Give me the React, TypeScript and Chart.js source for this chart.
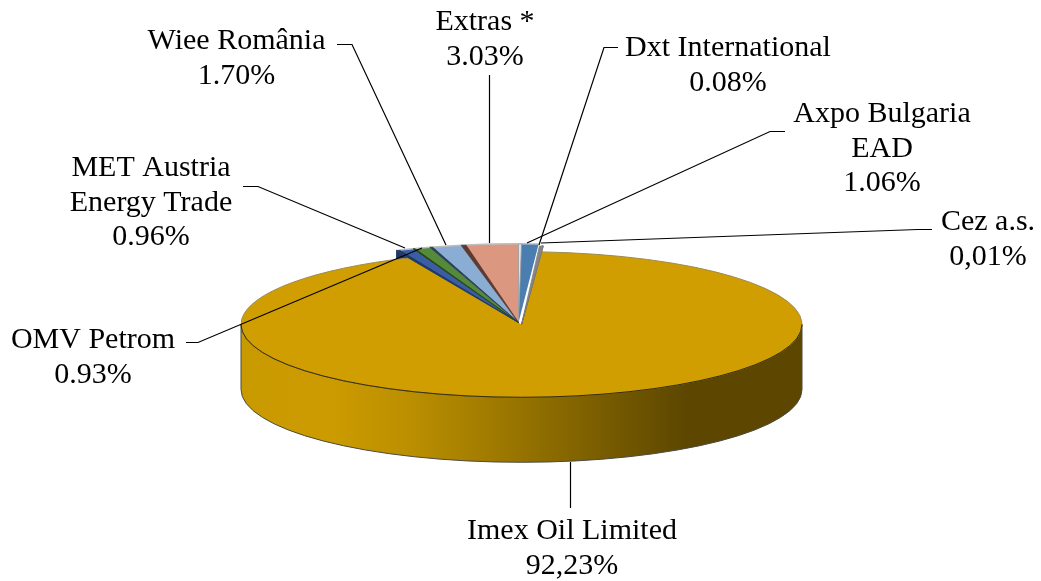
import React, { useEffect, useRef } from "react";
import { Chart, registerables } from "chart.js";

Chart.register(...registerables);

const categories = ["Axpo Bulgaria EAD", "Dxt International", "Cez a.s.", "Imex Oil Limited", "MET Austria Energy Trade", "OMV Petrom", "Wiee România", "Extras *"];
const shares = [1.06, 0.08, 0.01, 92.23, 0.96, 0.93, 1.7, 3.03];
const sliceColors = ["#4a7eb0", "#3f3f3f", "#808080", "#d09e00", "#3a5ea6", "#558a3a", "#8aadd3", "#dc9780"];
const wallColors = ["#e2e2e2", "#222222", "#858585", "#5c4600", "#1f3864", "#25401a", "#2c3c50", "#5a3a32"];
const labelLines = [
  ["Axpo Bulgaria", "EAD", "1.06%"],
  ["Dxt International", "0.08%"],
  ["Cez a.s.", "0,01%"],
  ["Imex Oil Limited", "92,23%"],
  ["MET Austria", "Energy Trade", "0.96%"],
  ["OMV Petrom", "0.93%"],
  ["Wiee România", "1.70%"],
  ["Extras *", "3.03%"],
];

const FONT = '30px "Liberation Serif"';
const CX = 521.5;
const CY = 324.5;
const RX = 280.5;
const K = 0.2595;
const DEPTH = 65;
const BIG = 3;
const SMALL_R = 303;

const labelAnchors = [
  [882, 122], [728, 56], [988, 230], [572, 539], [151, 176], [93, 348], [236.5, 49], [485, 30],
];
const wallWidths = [3, 1.5, 4, 0, 4, 2, 3, 5];
const leaders = [
  [[785, 131.5], [770, 131.5], [527, 243]],
  [[618, 47.5], [604, 47.5], [539, 245]],
  [[932, 229.5], [918, 229.5], [541, 243]],
  [[570.5, 462], [570.5, 508]],
  [[243, 186.5], [258, 186.5], [405, 248]],
  [[186, 342.5], [198, 342.5], [422, 248]],
  [[337, 44.5], [352, 44.5], [446, 245]],
  [[489.5, 75], [489.5, 243]],
];

type Sc = { x: (v: number) => number; y: (v: number) => number };

function mapper(chart: any): Sc {
  const ox = (chart.chartArea.left + chart.chartArea.right) / 2;
  const oy = (chart.chartArea.top + chart.chartArea.bottom) / 2;
  return { x: (v) => v + (CX - ox), y: (v) => CY + (v - oy) * K };
}

const pie3d = {
  id: "pie3d",
  afterDatasetsUpdate(chart: any) {
    const meta = chart.getDatasetMeta(0);
    meta.data.forEach((el: any, i: number) => {
      if (i === BIG) {
        el.outerRadius = RX;
      } else {
        el.outerRadius = SMALL_R;
        if (i > BIG || i === 0) {
          el.x -= 3;
          el.y -= 2 / K;
        }
      }
    });
  },
  beforeDatasetsDraw(chart: any) {
    const ctx: CanvasRenderingContext2D = chart.ctx;
    const m = mapper(chart);
    const meta = chart.getDatasetMeta(0);
    const big = meta.data[BIG];
    const bx = m.x(big.x);
    const by = m.y(big.y);
    const ry = RX * K;

    // front wall of the large slice
    const g = ctx.createLinearGradient(bx - RX, 0, bx + RX, 0);
    g.addColorStop(0, "#c99a00");
    g.addColorStop(0.16, "#cc9b00");
    g.addColorStop(0.3, "#bb8f00");
    g.addColorStop(0.48, "#9a7600");
    g.addColorStop(0.66, "#755a00");
    g.addColorStop(0.8, "#5c4600");
    g.addColorStop(1, "#5c4600");
    ctx.save();
    ctx.beginPath();
    ctx.ellipse(bx, by + DEPTH, RX, ry, 0, 0, Math.PI);
    ctx.lineTo(bx - RX, by);
    ctx.ellipse(bx, by, RX, ry, 0, Math.PI, 0, true);
    ctx.closePath();
    ctx.fillStyle = g;
    ctx.fill();
    ctx.strokeStyle = "#4a4a40";
    ctx.lineWidth = 1;
    ctx.stroke();

    // cut face of the leftmost raised slice, seen behind the large one
    const first = meta.data[BIG + 1];
    const a0 = first.startAngle;
    const px = m.x(first.x + Math.cos(a0) * first.outerRadius);
    const py = m.y(first.y + Math.sin(a0) * first.outerRadius);
    ctx.beginPath();
    ctx.moveTo(m.x(first.x), m.y(first.y));
    ctx.lineTo(px, py);
    ctx.lineTo(px, py + 14);
    ctx.lineTo(m.x(first.x), m.y(first.y) + 14);
    ctx.closePath();
    ctx.fillStyle = wallColors[BIG + 1];
    ctx.fill();
    ctx.restore();

    // squash the pie into the tilted plane while the library draws its arcs
    ctx.save();
    const ox = (chart.chartArea.left + chart.chartArea.right) / 2;
    const oy = (chart.chartArea.top + chart.chartArea.bottom) / 2;
    ctx.translate(CX - ox, CY - oy * K);
    ctx.scale(1, K);
  },
  afterDatasetsDraw(chart: any) {
    const ctx: CanvasRenderingContext2D = chart.ctx;
    ctx.restore();
    const m = mapper(chart);
    const meta = chart.getDatasetMeta(0);
    const big = meta.data[BIG];
    const bx = m.x(big.x);
    const by = m.y(big.y);
    const ry = RX * K;
    ctx.save();

    // rim of the large slice
    ctx.lineWidth = 1;
    ctx.strokeStyle = "#9c8a50";
    ctx.beginPath();
    ctx.ellipse(bx, by, RX, ry, 0, big.startAngle, big.endAngle);
    ctx.stroke();
    ctx.strokeStyle = "#3a2d00";
    ctx.beginPath();
    ctx.ellipse(bx, by, RX, ry, 0, 0, Math.PI);
    ctx.stroke();

    // cut faces and rims of the small slices
    meta.data.forEach((el: any, i: number) => {
      if (i === BIG) return;
      const ax = m.x(el.x);
      const ay = m.y(el.y);
      const R = el.outerRadius;
      ctx.beginPath();
      ctx.ellipse(ax, ay, R, R * K, 0, el.startAngle, el.endAngle);
      ctx.lineWidth = 1.5;
      ctx.strokeStyle = "#bdbdbd";
      ctx.stroke();
      const w = wallWidths[i];
      const atEnd = i === 2;
      const a = atEnd ? el.endAngle : el.startAngle;
      const px = m.x(el.x + Math.cos(a) * R);
      const py = m.y(el.y + Math.sin(a) * R);
      ctx.beginPath();
      ctx.moveTo(ax, ay);
      ctx.lineTo(px, py);
      ctx.lineTo(px + (atEnd ? -w : w), py);
      ctx.closePath();
      ctx.fillStyle = wallColors[i];
      ctx.fill();
      ctx.lineWidth = 0.8;
      ctx.strokeStyle = i === 0 ? "#9a9a9a" : wallColors[i];
      ctx.stroke();
    });
    ctx.restore();
  },
  afterDraw(chart: any) {
    const ctx: CanvasRenderingContext2D = chart.ctx;
    ctx.save();
    ctx.strokeStyle = "#000000";
    ctx.lineWidth = 1.2;
    leaders.forEach((pts) => {
      ctx.beginPath();
      pts.forEach(([x, y], j) => (j ? ctx.lineTo(x, y) : ctx.moveTo(x, y)));
      ctx.stroke();
    });
    ctx.fillStyle = "#000000";
    ctx.font = FONT;
    ctx.textAlign = "center";
    ctx.textBaseline = "alphabetic";
    labelLines.forEach((lines, i) => {
      const [x, y] = labelAnchors[i];
      lines.forEach((t, j) => ctx.fillText(t, x, y + j * 34.5));
    });
    ctx.restore();
  },
};

export default function App() {
  const ref = useRef<HTMLCanvasElement>(null);
  useEffect(() => {
    if (!ref.current) return;
    const chart = new Chart(ref.current, {
      type: "pie",
      data: {
        labels: categories,
        datasets: [
          {
            data: shares,
            backgroundColor: sliceColors,
            borderWidth: 0,
            clip: false,
          } as any,
        ],
      },
      options: {
        responsive: false,
        animation: false,
        rotation: 0,
        layout: { padding: 0 },
        plugins: { legend: { display: false }, tooltip: { enabled: false } },
      },
      plugins: [pie3d],
    });
    return () => chart.destroy();
  }, []);
  return (
    <div style={{ position: "fixed", left: 0, top: 0, width: 1041, height: 581, background: "#fff" }}>
      <canvas ref={ref} width={1041} height={581} style={{ display: "block" }} />
    </div>
  );
}
